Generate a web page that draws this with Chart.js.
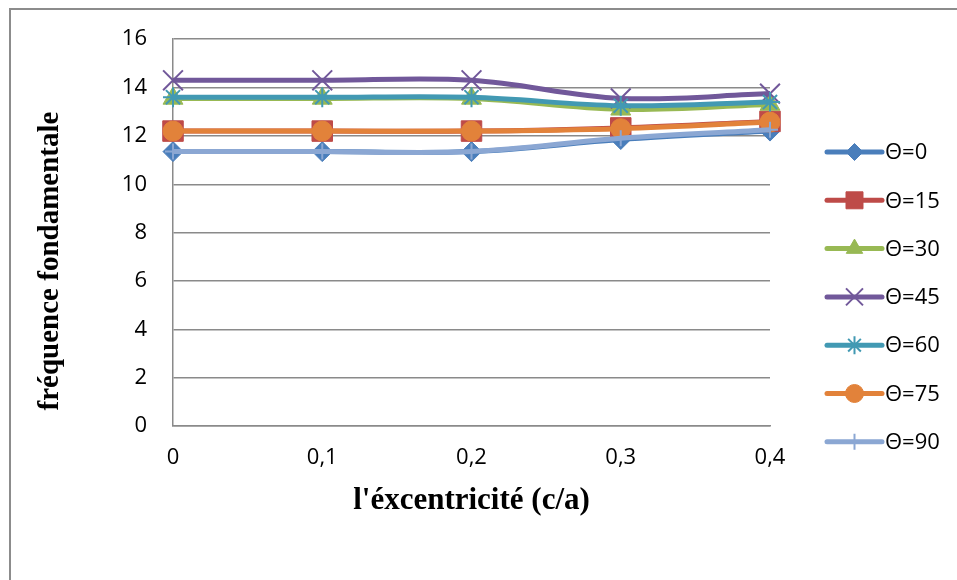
<!DOCTYPE html>
<html>
<head>
<meta charset="utf-8">
<title>fréquence fondamentale</title>
<script src="https://cdn.jsdelivr.net/npm/chart.js@4/dist/chart.umd.min.js"></script>
<style>
  html, body { margin: 0; padding: 0; background: #fff; }
  #wrap { width: 957px; height: 580px; }
</style>
</head>
<body>
<div id="wrap"><canvas id="grafico"></canvas></div>
<script>
// excentricité c/a (catégories de l'axe X)
const categories = ['0', '0,1', '0,2', '0,3', '0,4'];
const yTicks = [0, 2, 4, 6, 8, 10, 12, 14, 16];

// fréquence fondamentale pour chaque angle θ
const theta0  = [11.35, 11.35, 11.35, 11.85, 12.2];
const theta15 = [12.2, 12.2, 12.2, 12.33, 12.6];
const theta30 = [13.55, 13.55, 13.55, 13.1, 13.3];
const theta45 = [14.3, 14.3, 14.3, 13.55, 13.75];
const theta60 = [13.6, 13.6, 13.6, 13.25, 13.4];
const theta75 = [12.2, 12.2, 12.2, 12.3, 12.57];
const theta90 = [11.35, 11.35, 11.35, 11.9, 12.25];
const seriesNames = ['Θ=0', 'Θ=15', 'Θ=30', 'Θ=45', 'Θ=60', 'Θ=75', 'Θ=90'];

const series = [theta0, theta15, theta30, theta45, theta60, theta75, theta90];
const styles = [
  { color: '#4A7EBB', point: 'rectRot',  r: 10,  lr: 8.5, bw: 1 },
  { color: '#BE4B48', point: 'rect',     r: 14.5, lr: 12, bw: 1 },
  { color: '#98B954', point: 'triangle', r: 11.5, lr: 9.5, bw: 1 },
  { color: '#71589A', point: 'crossRot', r: 14,  lr: 12,  bw: 2 },
  { color: '#4299B3', point: 'star',     r: 10,  lr: 9,   bw: 2 },
  { color: '#E2823A', point: 'circle',   r: 10,  lr: 9,   bw: 1 },
  { color: '#8BA7D3', point: 'cross',    r: 8,   lr: 8,   bw: 2 }
];

const datasets = series.map((d, i) => ({
  label: seriesNames[i],
  data: d,
  borderColor: styles[i].color,
  backgroundColor: styles[i].color,
  borderWidth: 5,
  tension: 0.35,
  pointStyle: styles[i].point,
  pointRadius: styles[i].r,
  pointHoverRadius: styles[i].r,
  pointBorderWidth: styles[i].bw,
  pointBorderColor: styles[i].color,
  pointBackgroundColor: styles[i].color,
  order: series.length - 1 - i,
  clip: false
}));

// cadre gris autour du graphique
const cadre = {
  id: 'cadre',
  beforeDraw(chart) {
    const ctx = chart.ctx;
    ctx.save();
    ctx.fillStyle = '#fff';
    ctx.fillRect(0, 0, chart.width, chart.height);
    ctx.strokeStyle = '#8c8c8c';
    ctx.lineWidth = 2;
    ctx.strokeRect(10, 9, chart.width + 10, chart.height + 10);
    ctx.restore();
  }
};

// légende à droite : trait + marqueur + texte
const legende = {
  id: 'legende',
  afterDraw(chart) {
    const ctx = chart.ctx;
    const x0 = 827, x1 = 882, y0 = 152, pas = 48.3;
    ctx.save();
    seriesNames.forEach((name, i) => {
      const s = styles[i];
      const y = y0 + i * pas;
      ctx.strokeStyle = s.color;
      ctx.lineWidth = 5;
      ctx.lineCap = 'round';
      ctx.beginPath();
      ctx.moveTo(x0, y);
      ctx.lineTo(x1, y);
      ctx.stroke();
      ctx.lineCap = 'butt';
      ctx.fillStyle = s.color;
      ctx.lineWidth = s.bw;
      Chart.helpers.drawPoint(ctx, { pointStyle: s.point, radius: s.lr, rotation: 0, borderWidth: s.bw }, (x0 + x1) / 2, y);
      ctx.fillStyle = '#000';
      ctx.font = '22px "Open Sans"';
      ctx.textBaseline = 'middle';
      ctx.textAlign = 'left';
      ctx.fillText(name, 885, y + 1);
    });
    ctx.restore();
  }
};

// titre de l'axe vertical
const titreY = {
  id: 'titreY',
  afterDraw(chart) {
    const ctx = chart.ctx;
    ctx.save();
    ctx.translate(51, 261);
    ctx.rotate(-Math.PI / 2);
    ctx.fillStyle = '#000';
    ctx.font = 'bold 29px "Liberation Serif"';
    ctx.textAlign = 'center';
    ctx.textBaseline = 'middle';
    ctx.fillText('fréquence fondamentale', 0, 0);
    ctx.restore();
  }
};

new Chart(document.getElementById('grafico'), {
  type: 'line',
  data: { labels: categories, datasets: datasets },
  options: {
    responsive: true,
    maintainAspectRatio: false,
    animation: false,
    layout: { padding: { top: 39, right: 187, left: 0, bottom: 0 } },
    plugins: {
      legend: { display: false },
      tooltip: { enabled: false }
    },
    scales: {
      x: {
        offset: false,
        grid: { display: false, drawTicks: false },
        border: { display: true, color: '#8a8a8a', width: 1.5 },
        ticks: { color: '#000', font: { family: 'Open Sans', size: 22 }, padding: 19, maxRotation: 0 },
        title: {
          display: true,
          text: "l'éxcentricité (c/a)",
          color: '#000',
          font: { family: 'Liberation Serif', size: 31, weight: 'bold' },
          padding: { top: 0, bottom: 60 }
        },
        afterFit(scale) { scale.height = 154; }
      },
      y: {
        min: 0,
        max: 16,
        afterBuildTicks(scale) { scale.ticks = yTicks.map(v => ({ value: v })); },
        grid: { color: '#8a8a8a', lineWidth: 1.5, drawTicks: false },
        border: { display: true, color: '#8a8a8a', width: 1.5 },
        ticks: { color: '#000', font: { family: 'Open Sans', size: 22 }, padding: 26 },
        afterFit(scale) { scale.width = 173; }
      }
    }
  },
  plugins: [cadre, legende, titreY]
});
</script>
</body>
</html>
